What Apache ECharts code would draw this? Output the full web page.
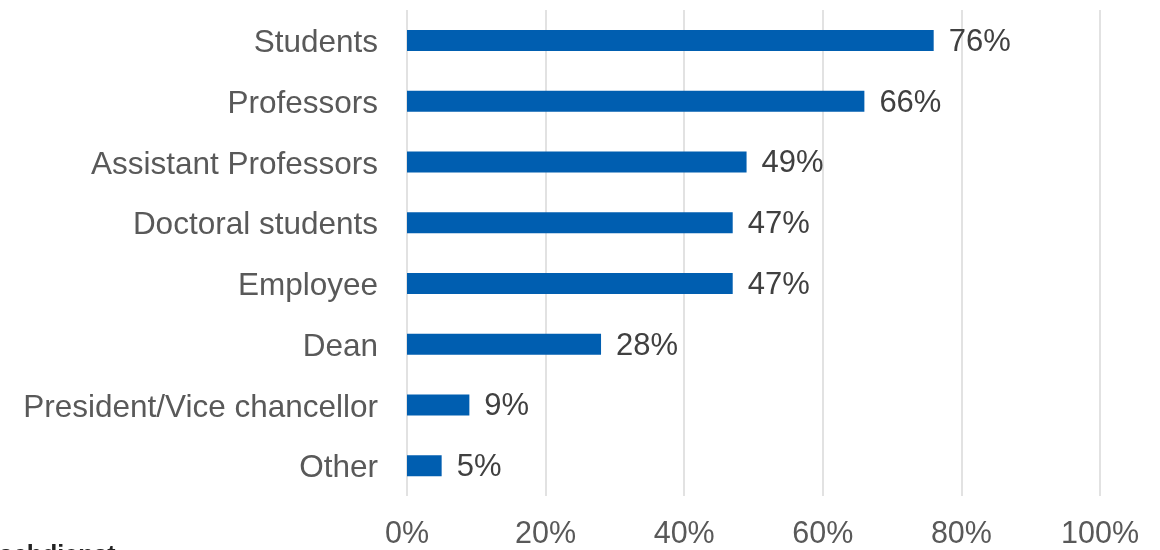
<!DOCTYPE html>
<html>
<head>
<meta charset="utf-8">
<script src="https://cdn.jsdelivr.net/npm/echarts@6/dist/echarts.min.js"></script>
<style>
  html, body { margin: 0; padding: 0; background: #ffffff; }
  #chart { width: 1160px; height: 550px; }
</style>
</head>
<body>
<div id="chart"></div>
<script>
// Groups, listed top to bottom
const categories = [
  'Students',
  'Professors',
  'Assistant Professors',
  'Doctoral students',
  'Employee',
  'Dean',
  'President/Vice chancellor',
  'Other'
];
// Share of respondents per group, in percent
const shares = [76, 66, 49, 47, 47, 28, 9, 5];
// Value axis tick settings
const axisMin = 0;
const axisMax = 100;
const axisStep = 20;

const chart = echarts.init(document.getElementById('chart'), null, { renderer: 'canvas' });

const FONT = '"Liberation Sans", Arial, sans-serif';

chart.setOption({
  animation: false,
  backgroundColor: '#ffffff',
  grid: { left: 407, right: 60, top: 10, bottom: 52, containLabel: false },
  xAxis: {
    type: 'value',
    min: axisMin,
    max: axisMax,
    interval: axisStep,
    axisLine: { show: false },
    axisTick: { show: false },
    splitLine: { show: true, lineStyle: { color: '#d9d9d9', width: 1.5 } },
    axisLabel: {
      formatter: '{value}%',
      color: '#595959',
      fontSize: 30.5,
      fontFamily: FONT,
      margin: 23
    }
  },
  yAxis: {
    type: 'category',
    data: categories.slice().reverse(),
    axisLine: { show: false },
    axisTick: { show: false },
    splitLine: { show: false },
    axisLabel: {
      margin: 29,
      formatter: v => '{c|' + v + '}',
      rich: {
        c: {
          color: '#595959',
          fontSize: 31.5,
          fontFamily: FONT,
          padding: [6, 0, 0, 0]
        }
      }
    }
  },
  series: [{
    type: 'bar',
    data: shares.slice().reverse(),
    barWidth: 21,
    itemStyle: { color: '#005EB0' },
    label: {
      show: true,
      position: 'right',
      distance: 15,
      offset: [0, 2],
      formatter: p => p.value + '%',
      color: '#404040',
      fontSize: 31,
      fontFamily: FONT
    }
  }],
  graphic: [{
    type: 'text',
    x: -1,
    y: 544,
    silent: true,
    style: {
      text: 'schdienst',
      fill: '#222222',
      fontSize: 25,
      fontWeight: 'bold',
      fontFamily: FONT,
      verticalAlign: 'top'
    }
  }]
});
</script>
</body>
</html>
